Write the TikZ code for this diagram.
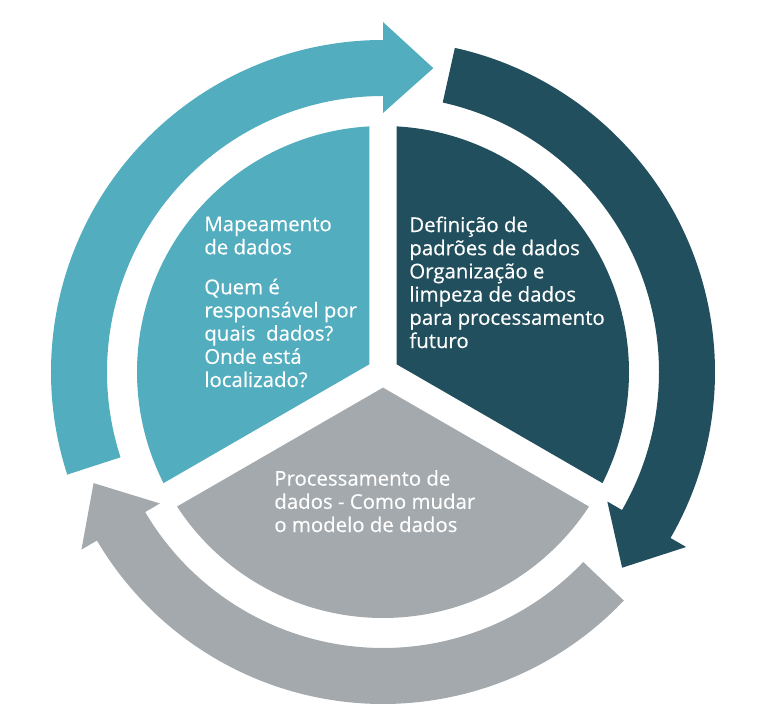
\documentclass[tikz,border=0pt]{standalone}
\usepackage{fontspec}
\setmainfont{Open Sans}
\newfontfamily\partfont[FakeBold=0.4]{Open Sans}

\definecolor{mapteal}{RGB}{82,173,191}
\definecolor{mapdark}{RGB}{33,79,94}
\definecolor{mapgrey}{RGB}{163,169,172}

\tikzset{
  tealpart/.style={fill=mapteal},
  darkpart/.style={fill=mapdark},
  greypart/.style={fill=mapgrey},
  parttext/.style={text=white, inner sep=0pt, align=left, anchor=base west,
    font=\partfont\fontsize{11.6}{13.2}\selectfont}
}

\begin{document}
\begin{tikzpicture}[scale=0.02]
			\useasboundingbox (-383,-346) rectangle (395,372);
			
			% inner pie
			\path[tealpart] (150:15.6) -- (93.15:246)
			arc[start angle=93.15, end angle=206.85, radius=246] -- cycle;
			\path[darkpart] (30:15.6) -- (-26.85:246)
			arc[start angle=-26.85, end angle=86.85, radius=246] -- cycle;
			\path[greypart] (270:15.6) -- (213.15:246)
			arc[start angle=213.15, end angle=326.85, radius=246] -- cycle;
			
			% outer ring arrows
			\path[tealpart] (198:332)
			arc[start angle=198, end angle=90, radius=332]
			-- (90:350) -- (80.6:308) -- (90:259) -- (90:276)
			arc[start angle=90, end angle=198, radius=276] -- cycle;
			\path[darkpart] (77.5:332)
			arc[start angle=77.5, end angle=-30, radius=332]
			-- (-30:350) -- (-39.3:309) -- (-30:259) -- (-30:276)
			arc[start angle=-30, end angle=77.5, radius=276] -- cycle;
			\path[greypart] (-43.5:332)
			arc[start angle=-43.5, end angle=-149.5, radius=332]
			-- (-149.5:350) -- (-159:310) -- (-149.5:259) -- (-149.5:276)
			arc[start angle=-149.5, end angle=-43.5, radius=276] -- cycle;
			
			% texts (base = last line)
			\node[parttext] (mapeamento) at (-179,-15)
			{Mapeamento\\de dados\\[9.5pt]Quem é\\responsável por\\quais\ \ dados?\\Onde está\\localizado?};
			\node[parttext] (definicao) at (26,24)
			{Definição de\\padrões de dados\\Organização e\\limpeza de dados\\para processamento\\futuro};
			\node[parttext] (processamento) at (-109,-160)
			{Processamento de\\dados - Como mudar\\o modelo de dados};
\end{tikzpicture}
\end{document}
